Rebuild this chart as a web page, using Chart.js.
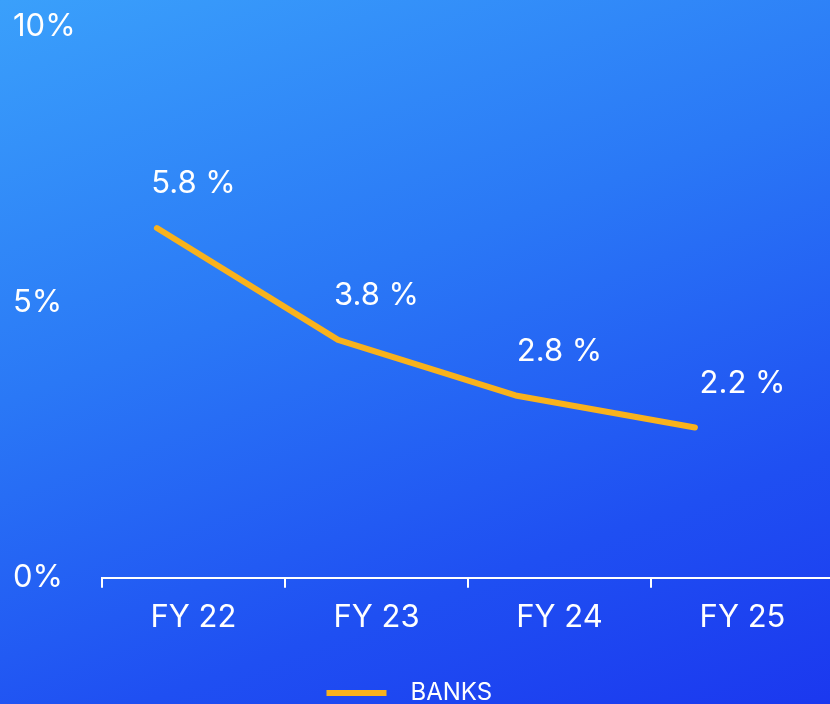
<!DOCTYPE html>
<html>
<head>
<meta charset="utf-8">
<script src="https://cdn.jsdelivr.net/npm/chart.js@4.4.1/dist/chart.umd.min.js"></script>
<style>
  html, body { margin: 0; padding: 0; }
  body {
    width: 830px; height: 704px; overflow: hidden;
    background: linear-gradient(160deg, #3aa0fb 0%, #2a78f6 40%, #1f4ff2 75%, #1b38ef 100%);
  }
  #wrap { width: 836px; height: 704px; position: relative; }
</style>
</head>
<body>
<div id="wrap"><canvas id="chart"></canvas></div>
<script>
// --- dados ---
const categories = ['FY 22', 'FY 23', 'FY 24', 'FY 25'];
const printedValues = [5.8, 3.8, 2.8, 2.2];       // valores escritos acima da linha
const lineValues = [6.35, 4.32, 3.31, 2.73];       // altura da linha
const linePositions = [0.30, 1.29, 2.26, 3.24];    // posição da linha dentro de cada categoria
const yTicks = [0, 5, 10];
const seriesName = 'BANKS';

const LINE_COLOR = '#f9b21c';
const FONT = 'Inter';

// rótulos com os valores, centrados na categoria
const valueLabels = {
    id: 'valueLabels',
    afterDatasetsDraw(chart) {
        const ctx = chart.ctx;
        const meta = chart.getDatasetMeta(0);
        const xScale = chart.scales.x;
        ctx.save();
        ctx.fillStyle = '#ffffff';
        ctx.font = `400 31px ${FONT}`;
        ctx.textAlign = 'center';
        ctx.textBaseline = 'middle';
        meta.data.forEach((pt, i) => {
            ctx.fillText(printedValues[i].toFixed(1) + ' %', xScale.getPixelForValue(i), pt.y - 44);
        });
        ctx.restore();
    }
};

new Chart(document.getElementById('chart'), {
    type: 'line',
    data: {
        labels: categories,
        datasets: [{
            label: seriesName,
            data: lineValues.map((v, i) => ({ x: linePositions[i], y: v })),
            xAxisID: 'xl',
            borderColor: LINE_COLOR,
            backgroundColor: LINE_COLOR,
            borderWidth: 6,
            borderCapStyle: 'round',
            borderJoinStyle: 'round',
            pointRadius: 0,
            tension: 0
        }]
    },
    options: {
        responsive: true,
        maintainAspectRatio: false,
        animation: false,
        layout: { padding: { left: 13, right: 2, top: 27, bottom: -11 } },
        scales: {
            x: {
                type: 'category',
                offset: true,
                afterFit: (scale) => { scale.height += 34; },
                grid: { offset: true, drawOnChartArea: false, drawTicks: true, tickLength: 10, color: '#ffffff', lineWidth: 2 },
                border: { color: '#ffffff', width: 2 },
                ticks: { color: '#ffffff', font: { family: FONT, size: 31 }, padding: 11 }
            },
            xl: {
                type: 'linear',
                display: false,
                min: 0,
                max: categories.length
            },
            y: {
                min: 0,
                max: 10,
                afterBuildTicks: (scale) => { scale.ticks = yTicks.map(v => ({ value: v })); },
                afterFit: (scale) => { scale.width = 89; },
                grid: { display: false },
                border: { display: false },
                ticks: {
                    color: '#ffffff',
                    crossAlign: 'far',
                    font: { family: FONT, size: 31 },
                    callback: (v) => v + '%'
                }
            }
        },
        plugins: {
            legend: {
                position: 'bottom',
                labels: {
                    color: '#ffffff',
                    font: { family: FONT, size: 24 },
                    usePointStyle: true,
                    pointStyle: 'line',
                    pointStyleWidth: 60,
                    boxHeight: 10,
                    padding: 0,
                    // espaço extra para deslocar a legenda um pouco para a esquerda
                    generateLabels: (chart) => Chart.defaults.plugins.legend.labels.generateLabels(chart)
                        .map(item => ({ ...item, text: '\u2002' + item.text + '\u2003\u2009' }))
                }
            },
            tooltip: { enabled: false }
        }
    },
    plugins: [valueLabels]
});
</script>
</body>
</html>
